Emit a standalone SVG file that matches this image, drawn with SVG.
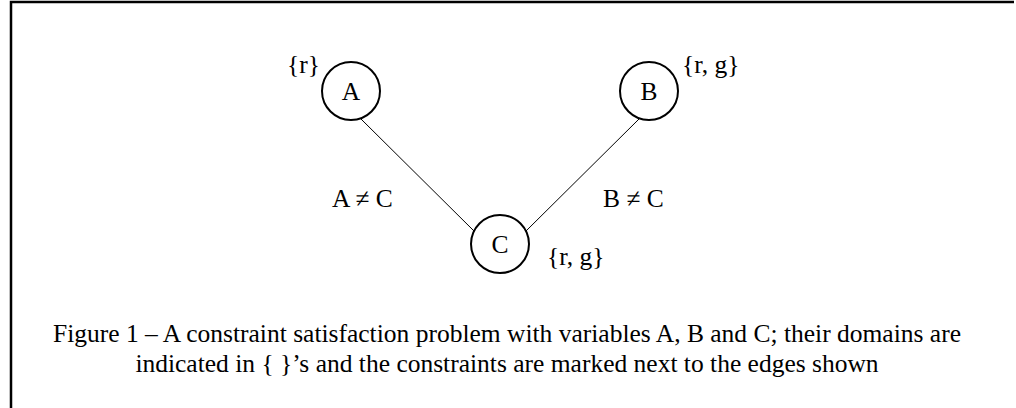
<svg xmlns="http://www.w3.org/2000/svg" width="1016" height="408" viewBox="0 0 1016 408">
<style>
text{font-family:"Liberation Serif","Times New Roman",serif;fill:#000;font-size:25.5px}
.node{fill:#fff;stroke:#000;stroke-width:2}
.edge{stroke:#000;stroke-width:1;fill:none}
</style>
<rect width="1016" height="408" fill="#fff"/>
<path d="M11,408 V2 H1014" fill="none" stroke="#000" stroke-width="2.5"/>
<g id="connectors">
<line class="edge" x1="361" y1="119" x2="475" y2="232"/>
<line class="edge" x1="639" y1="119" x2="525" y2="232"/>
<text x="332" y="207">A ≠ C</text>
<text x="603" y="207">B ≠ C</text>
</g>
<g id="nodeA">
<circle class="node" cx="351" cy="91" r="29"/>
<text x="351" y="100" text-anchor="middle">A</text>
<text x="287" y="73">{r}</text>
</g>
<g id="nodeB">
<circle class="node" cx="649" cy="91" r="29"/>
<text x="649" y="100" text-anchor="middle">B</text>
<text x="682" y="73">{r, g}</text>
</g>
<g id="nodeC">
<circle class="node" cx="500" cy="244" r="29"/>
<text x="500" y="253" text-anchor="middle">C</text>
<text x="547" y="265">{r, g}</text>
</g>
<g id="caption">
<text x="507" y="342" text-anchor="middle">Figure 1 – A constraint satisfaction problem with variables A, B and C; their domains are</text>
<text x="507" y="372" text-anchor="middle">indicated in { }’s and the constraints are marked next to the edges shown</text>
</g>
</svg>
